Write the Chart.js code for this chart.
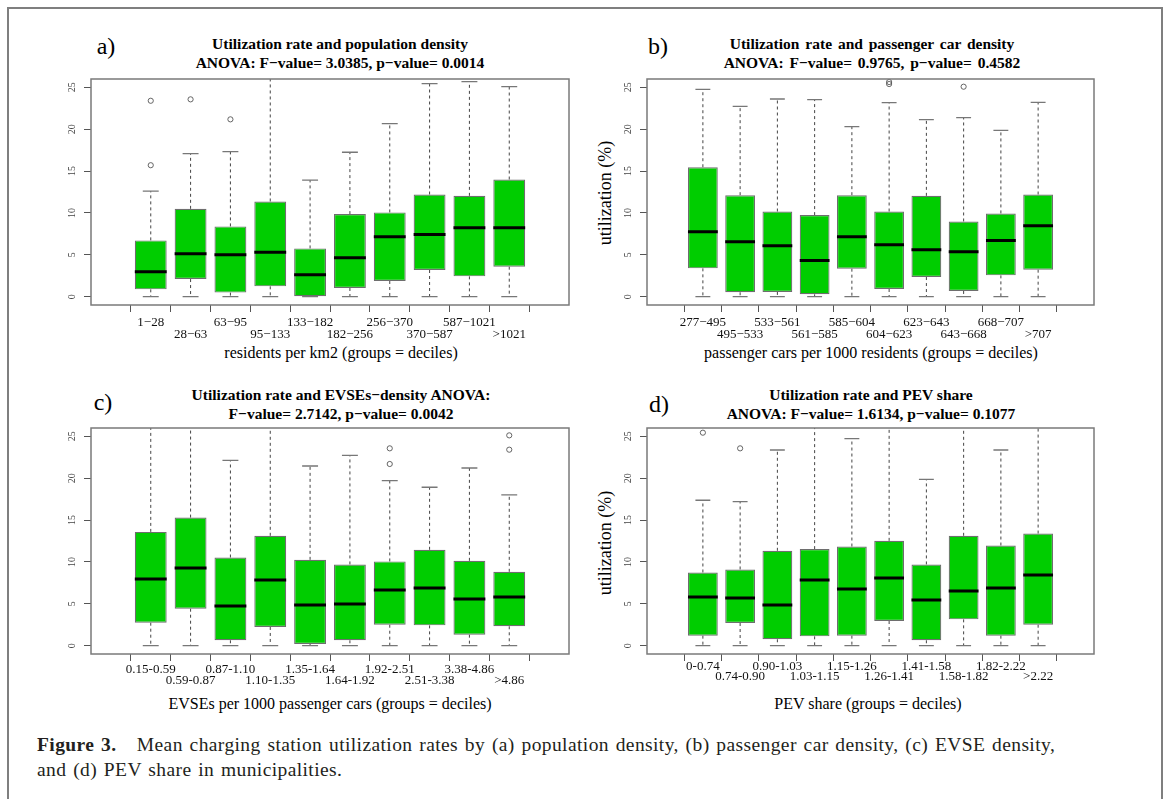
<!DOCTYPE html>
<html>
<head>
<meta charset="utf-8">
<script src="https://cdn.jsdelivr.net/npm/chart.js@4.4.1/dist/chart.umd.min.js"></script>
<style>
  body { margin: 0; width: 1165px; height: 799px; position: relative; overflow: hidden; background: #fff; font-family: "Liberation Serif", serif; color: #000; }
  .frame { position: absolute; left: 7px; top: 7px; width: 1152px; height: 800px; border: 2.5px solid #7f7f7f; border-bottom: none; }
  canvas { position: absolute; }
  .t { position: absolute; white-space: nowrap; transform: translate(-50%, -50%); line-height: 1; }
  .title { font-weight: bold; font-size: 15.5px; text-align: center; line-height: 19px; }
  .tag { font-size: 24px; }
  .xt { font-size: 16px; }
  .yt { font-size: 18px; transform: translate(-50%, -50%) rotate(-90deg); }
  .cap { position: absolute; left: 37px; top: 732px; font-size: 19.5px; line-height: 25px; letter-spacing: 0.4px; word-spacing: 1.5px; color: #231f20; white-space: nowrap; }
</style>
</head>
<body>
<div class="frame"></div>

<div class="t tag" style="left:106px;top:46px">a)</div>
<div class="t tag" style="left:658px;top:46px">b)</div>
<div class="t tag" style="left:103px;top:402px">c)</div>
<div class="t tag" style="left:659px;top:404px">d)</div>

<div class="t title" style="left:340px;top:53px">Utilization rate and population density<br>ANOVA: F−value= 3.0385, p−value= 0.0014</div>
<div class="t title" style="left:872px;top:53px;word-spacing:2px">Utilization rate and passenger car density<br>ANOVA: F−value= 0.9765, p−value= 0.4582</div>
<div class="t title" style="left:341px;top:404px">Utilization rate and EVSEs−density ANOVA:<br>F−value= 2.7142, p−value= 0.0042</div>
<div class="t title" style="left:871px;top:404px">Utilization rate and PEV share<br>ANOVA: F−value= 1.6134, p−value= 0.1077</div>

<div class="t xt" style="left:341px;top:353px">residents per km2 (groups = deciles)</div>
<div class="t xt" style="left:871px;top:353px">passenger cars per 1000 residents (groups = deciles)</div>
<div class="t xt" style="left:330px;top:704px">EVSEs per 1000 passenger cars (groups = deciles)</div>
<div class="t xt" style="left:868px;top:704px">PEV share (groups = deciles)</div>

<div class="t yt" style="left:605px;top:193px">utilization (%)</div>
<div class="t yt" style="left:605px;top:543px">utilization (%)</div>

<canvas id="chartA"></canvas>
<canvas id="chartB"></canvas>
<canvas id="chartC"></canvas>
<canvas id="chartD"></canvas>

<div class="cap"><b>Figure 3.</b>&nbsp;&nbsp; Mean charging station utilization rates by (a) population density, (b) passenger car density, (c) EVSE density,<br>and (d) PEV share in municipalities.</div>

<script>
// shared axis values
const yTicks = [0, 5, 10, 15, 20, 25];
const yMin = -1;
const yMax = 26;

// a) population density
const labelsA = ['1−28', '28−63', '63−95', '95−133', '133−182', '182−256', '256−370', '370−587', '587−1021', '>1021'];
const loA  = [0, 0, 0, 0, 0, 0, 0, 0, 0, 0];
const q1A  = [0.87, 2.1, 0.48, 1.23, 0, 1.03, 1.87, 3.18, 2.42, 3.58];
const medA = [2.98, 5.13, 5.0, 5.29, 2.62, 4.65, 7.15, 7.43, 8.23, 8.23];
const q3A  = [6.72, 10.49, 8.39, 11.37, 5.76, 9.86, 10.06, 12.2, 12.04, 13.99];
const hiA  = [12.6, 17.09, 17.33, 28, 13.91, 17.25, 20.67, 25.44, 25.68, 25.08];
const outA = [[15.7, 23.4], [23.57], [21.18], [], [], [], [], [], [], []];

// b) passenger car density
const labelsB = ['277−495', '495−533', '533−561', '561−585', '585−604', '604−623', '623−643', '643−668', '668−707', '>707'];
const loB  = [0, 0, 0, 0, 0, 0, 0, 0, 0, 0];
const q1B  = [3.38, 0.52, 0.56, 0.28, 3.34, 0.91, 2.34, 0.68, 2.54, 3.22];
const medB = [7.75, 6.56, 6.08, 4.33, 7.15, 6.2, 5.6, 5.37, 6.72, 8.47];
const q3B  = [15.46, 12.12, 10.17, 9.74, 12.12, 10.17, 12.04, 8.98, 9.94, 12.2];
const hiB  = [24.76, 22.73, 23.61, 23.53, 20.31, 23.17, 21.14, 21.38, 19.87, 23.21];
const outB = [[], [], [], [], [], [25.4, 25.64], [], [25.08], [], []];

// c) EVSE density
const labelsC = ['0.15-0.59', '0.59-0.87', '0.87-1.10', '1.10-1.35', '1.35-1.64', '1.64-1.92', '1.92-2.51', '2.51-3.38', '3.38-4.86', '>4.86'];
const loC  = [0, 0, 0, 0, 0, 0, 0, 0, 0, 0];
const q1C  = [2.74, 4.41, 0.64, 2.23, 0.2, 0.64, 2.5, 2.42, 1.31, 2.31];
const medC = [7.95, 9.26, 4.73, 7.83, 4.85, 4.97, 6.64, 6.88, 5.56, 5.8];
const q3C  = [13.59, 15.3, 10.53, 13.12, 10.25, 9.7, 10.06, 11.45, 10.13, 8.82];
const hiC  = [28, 28, 22.14, 28, 21.46, 22.73, 19.71, 18.92, 21.22, 18.0];
const outC = [[], [], [], [], [], [], [21.7, 23.57], [], [], [23.41, 25.12]];

// d) PEV share
const labelsD = ['0-0.74', '0.74-0.90', '0.90-1.03', '1.03-1.15', '1.15-1.26', '1.26-1.41', '1.41-1.58', '1.58-1.82', '1.82-2.22', '>2.22'];
const loD  = [0, 0, 0, 0, 0, 0, 0, 0, 0, 0];
const q1D  = [1.19, 2.7, 0.76, 1.11, 1.19, 2.94, 0.64, 3.14, 1.19, 2.5];
const medD = [5.8, 5.68, 4.85, 7.83, 6.76, 8.07, 5.45, 6.52, 6.88, 8.43];
const q3D  = [8.74, 9.1, 11.33, 11.53, 11.84, 12.52, 9.7, 13.12, 11.96, 13.39];
const hiD  = [17.37, 17.21, 23.37, 28, 24.72, 28, 19.87, 28, 23.37, 28];
const outD = [[25.44], [23.57], [], [], [], [], [], [], [], []];

const GREEN = '#00cd00';

// whiskers, staples, medians, frame and rotated y labels
const boxParts = {
  id: 'boxParts',
  beforeDatasetsDraw(chart) {
    const o = chart.options.plugins.boxParts;
    const {ctx, chartArea: a, scales: {x, y}} = chart;
    ctx.save();
    ctx.beginPath();
    ctx.rect(a.left, a.top, a.right - a.left, a.bottom - a.top);
    ctx.clip();
    o.med.forEach((m, i) => {
      const px = x.getPixelForValue(i);
      ctx.strokeStyle = '#444';
      ctx.lineWidth = 1;
      ctx.setLineDash([3, 3]);
      ctx.beginPath();
      ctx.moveTo(px, y.getPixelForValue(o.q3[i]));
      ctx.lineTo(px, y.getPixelForValue(o.hi[i]));
      ctx.moveTo(px, y.getPixelForValue(o.q1[i]));
      ctx.lineTo(px, y.getPixelForValue(o.lo[i]));
      ctx.stroke();
      ctx.setLineDash([]);
      ctx.strokeStyle = '#777';
      ctx.lineWidth = 1.3;
      ctx.beginPath();
      [o.hi[i], o.lo[i]].forEach(v => {
        ctx.moveTo(x.getPixelForValue(i - 0.2), y.getPixelForValue(v));
        ctx.lineTo(x.getPixelForValue(i + 0.2), y.getPixelForValue(v));
      });
      ctx.stroke();
    });
    ctx.restore();
  },
  afterDatasetsDraw(chart) {
    const o = chart.options.plugins.boxParts;
    const {ctx, chartArea: a, scales: {x, y}} = chart;
    ctx.save();
    ctx.strokeStyle = '#000';
    ctx.lineWidth = 3;
    ctx.beginPath();
    o.med.forEach((m, i) => {
      ctx.moveTo(x.getPixelForValue(i - 0.4), y.getPixelForValue(m));
      ctx.lineTo(x.getPixelForValue(i + 0.4), y.getPixelForValue(m));
    });
    ctx.stroke();
    ctx.strokeStyle = '#7a7a7a';
    ctx.lineWidth = 1.5;
    ctx.strokeRect(a.left, a.top, a.right - a.left, a.bottom - a.top);
    ctx.fillStyle = '#444';
    ctx.font = '10px "Liberation Serif"';
    ctx.textAlign = 'center';
    ctx.textBaseline = 'middle';
    y.ticks.forEach(t => {
      ctx.save();
      ctx.translate(a.left - 19, y.getPixelForValue(t.value));
      ctx.rotate(-Math.PI / 2);
      ctx.fillText(String(t.value), 0, 0);
      ctx.restore();
    });
    ctx.restore();
  }
};

function makePanel(id, area, labels, lo, q1, med, q3, hi, out, rowGap, pad) {
  const cv = document.getElementById(id);
  cv.width = area.r - area.l + 80;
  cv.height = area.b - area.t + 70;
  cv.style.left = (area.l - 60) + 'px';
  cv.style.top = (area.t - 10) + 'px';

  const outliers = [];
  out.forEach((vals, i) => vals.forEach(v => outliers.push({x: i, y: v})));

  new Chart(cv, {
    type: 'bar',
    data: {
      datasets: [
        {
          type: 'bar',
          data: labels.map((_, i) => ({x: i, y: [q1[i], q3[i]]})),
          backgroundColor: GREEN,
          borderColor: '#6e6e6e',
          borderWidth: 1.2,
          borderSkipped: false,
          barPercentage: 0.8,
          categoryPercentage: 1,
          order: 2
        },
        {
          type: 'scatter',
          data: outliers,
          pointStyle: 'circle',
          pointRadius: 2.6,
          pointBackgroundColor: 'rgba(0,0,0,0)',
          pointBorderColor: '#555',
          pointBorderWidth: 0.9,
          order: 1
        }
      ]
    },
    options: {
      responsive: false,
      animation: false,
      events: [],
      layout: {padding: {left: 40, right: 20, top: 10, bottom: 15}},
      plugins: {
        legend: {display: false},
        tooltip: {enabled: false},
        boxParts: {lo, q1, med, q3, hi}
      },
      scales: {
        x: {
          type: 'linear',
          min: -0.9,
          max: 9.9,
          afterBuildTicks: s => { s.ticks = labels.map((_, i) => ({value: i})); },
          afterFit: s => { s.height = 45; },
          grid: {drawOnChartArea: false, drawTicks: true, tickLength: 7, color: '#555', lineWidth: 1},
          border: {display: false},
          ticks: {
            autoSkip: false,
            maxRotation: 0,
            minRotation: 0,
            padding: pad,
            color: '#111',
            font: {family: 'Liberation Serif', size: 13, lineHeight: rowGap + 'px'},
            callback: (v, i) => (i % 2 ? ['', labels[i]] : labels[i])
          }
        },
        y: {
          min: yMin,
          max: yMax,
          afterBuildTicks: s => { s.ticks = yTicks.map(v => ({value: v})); },
          afterFit: s => { s.width = 20; },
          grid: {drawOnChartArea: false, drawTicks: true, tickLength: 7, color: '#555', lineWidth: 1},
          border: {display: false},
          ticks: {display: false}
        }
      }
    },
    plugins: [boxParts]
  });
}

makePanel('chartA', {l: 91, t: 79, r: 569, b: 305}, labelsA, loA, q1A, medA, q3A, hiA, outA, 12.5, 4);
makePanel('chartB', {l: 647, t: 79, r: 1094, b: 305}, labelsB, loB, q1B, medB, q3B, hiB, outB, 12.5, 4);
makePanel('chartC', {l: 91, t: 428, r: 569, b: 654}, labelsC, loC, q1C, medC, q3C, hiC, outC, 11, 3);
makePanel('chartD', {l: 647, t: 428, r: 1094, b: 654}, labelsD, loD, q1D, medD, q3D, hiD, outD, 9.5, 1);
</script>
</body>
</html>
